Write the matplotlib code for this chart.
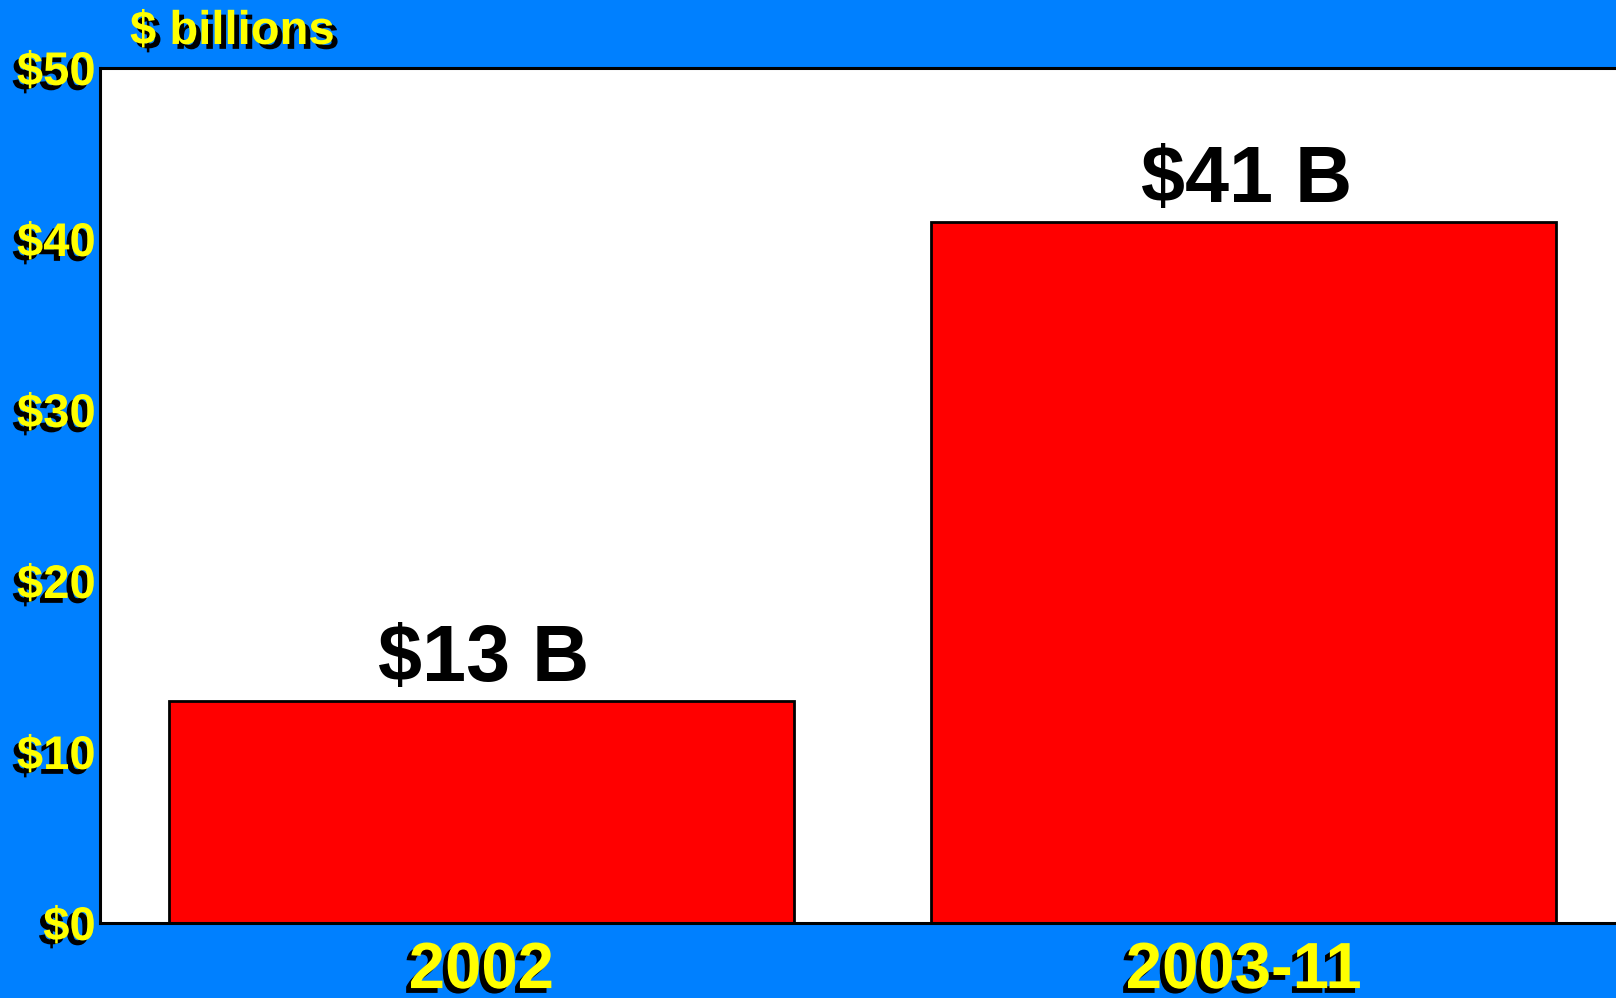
import matplotlib.pyplot as plt
import matplotlib.patheffects as pe

# chart data
periods = ["2002", "2003-11"]
values = [13, 41]
value_labels = ["$13 B", "$41 B"]
y_ticks = [0, 10, 20, 30, 40, 50]
y_tick_labels = ["$0", "$10", "$20", "$30", "$40", "$50"]

BLUE = "#0080FF"
YELLOW = "#FFFF00"

plt.rcParams["font.family"] = ["Liberation Sans", "DejaVu Sans"]


def shadow(dx, dy):
    return [
        pe.withSimplePatchShadow(offset=(dx, dy), shadow_rgbFace="black", alpha=1.0)
    ]


def create_chart():
    fig = plt.figure(figsize=(16.16, 9.98), dpi=100, facecolor=BLUE)
    ax = fig.add_axes([100 / 1616, 75 / 998, 1525 / 1616, 855 / 998])
    ax.set_facecolor("white")

    x = list(range(len(periods)))
    ax.bar(x, values, width=0.82, color="#FF0000", edgecolor="black", linewidth=2)

    for xi, v, lab in zip(x, values, value_labels):
        ax.annotate(
            lab,
            (xi, v),
            xytext=(2, 2),
            textcoords="offset points",
            ha="center",
            va="bottom",
            fontsize=57,
            fontweight="bold",
            color="black",
        )

    ax.set_xlim(-0.5, 1.5)
    ax.set_ylim(0, 50)
    ax.set_yticks(y_ticks)
    ax.set_yticklabels(y_tick_labels)
    ax.set_xticks(x)
    ax.set_xticklabels(periods)
    ax.tick_params(axis="y", length=0, pad=3, labelsize=34, labelcolor=YELLOW)
    ax.tick_params(axis="x", length=0, pad=13, labelsize=47, labelcolor=YELLOW)
    for t in ax.get_yticklabels() + ax.get_xticklabels():
        t.set_fontweight("bold")
        t.set_path_effects(shadow(-3.5, -3.5))

    for side in ["left", "bottom", "top", "right"]:
        ax.spines[side].set_linewidth(2.2)
        ax.spines[side].set_color("black")

    fig.text(
        130 / 1616,
        1 - 44 / 998,
        "$ billions",
        ha="left",
        va="baseline",
        fontsize=34,
        fontweight="bold",
        color=YELLOW,
        path_effects=shadow(3.5, -3.5),
    )

    fig.savefig("out.png", dpi=100, facecolor=BLUE)
    plt.close(fig)


if __name__ == "__main__":
    create_chart()
